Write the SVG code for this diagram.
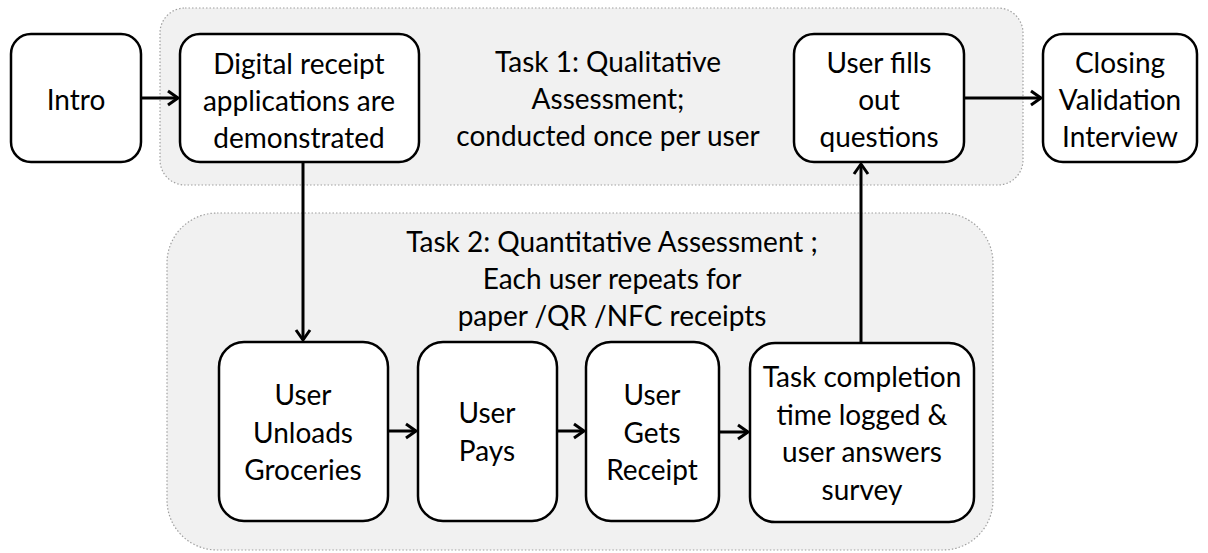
<svg xmlns="http://www.w3.org/2000/svg" width="1208" height="553" viewBox="0 0 1208 553">
<defs>
<style>
.bg{fill:#f1f1f1;stroke:#a0a0a0;stroke-width:1.2;stroke-dasharray:1.5 2}
.node{fill:#fff;stroke:#000;stroke-width:2.5}
.t{font-family:Lato,"Liberation Sans",sans-serif;font-size:28px;fill:#000;text-anchor:middle}
.c{fill:none;stroke:#000;stroke-width:3}
</style>
<marker id="ah" viewBox="0 0 16 18" refX="13" refY="9" markerWidth="16" markerHeight="18" markerUnits="userSpaceOnUse" orient="auto">
<path d="M3,2 L13,9 L3,16" fill="none" stroke="#000" stroke-width="3" stroke-linejoin="miter"/>
</marker>
</defs>
<g id="task1-container">
<rect class="bg" x="160" y="8" width="863" height="177" rx="25"/>
<text class="t"><tspan x="608" y="72">Task 1: Qualitative</tspan><tspan x="608" y="109">Assessment;</tspan><tspan x="608" y="146">conducted once per user</tspan></text>
</g>
<g id="task2-container">
<rect class="bg" x="167" y="213" width="826" height="337" rx="50"/>
<text class="t"><tspan x="612" y="252">Task 2: Quantitative Assessment ;</tspan><tspan x="612" y="289">Each user repeats for</tspan><tspan x="612" y="326">paper /QR /NFC receipts</tspan></text>
</g>
<g id="intro">
<rect class="node" x="11" y="34" width="130" height="128" rx="20"/>
<text class="t" x="76" y="110">Intro</text>
</g>
<g id="digital">
<rect class="node" x="180" y="34" width="239" height="128" rx="20"/>
<text class="t"><tspan x="299" y="74">Digital receipt</tspan><tspan x="299" y="111">applications are</tspan><tspan x="299" y="148">demonstrated</tspan></text>
</g>
<g id="fills">
<rect class="node" x="794" y="34" width="170" height="128" rx="20"/>
<text class="t"><tspan x="879" y="73">User fills</tspan><tspan x="879" y="110">out</tspan><tspan x="879" y="147">questions</tspan></text>
</g>
<g id="closing">
<rect class="node" x="1043" y="34" width="154" height="128" rx="20"/>
<text class="t"><tspan x="1120" y="73">Closing</tspan><tspan x="1120" y="110">Validation</tspan><tspan x="1120" y="147">Interview</tspan></text>
</g>
<g id="unloads">
<rect class="node" x="219" y="342" width="169" height="179" rx="25"/>
<text class="t"><tspan x="303" y="405">User</tspan><tspan x="303" y="443">Unloads</tspan><tspan x="303" y="480">Groceries</tspan></text>
</g>
<g id="pays">
<rect class="node" x="418" y="342" width="139" height="179" rx="25"/>
<text class="t"><tspan x="487" y="423">User</tspan><tspan x="487" y="461">Pays</tspan></text>
</g>
<g id="gets">
<rect class="node" x="586" y="342" width="133" height="179" rx="25"/>
<text class="t"><tspan x="652" y="405">User</tspan><tspan x="652" y="443">Gets</tspan><tspan x="652" y="480">Receipt</tspan></text>
</g>
<g id="completion">
<rect class="node" x="750" y="343" width="224" height="179" rx="25"/>
<text class="t"><tspan x="862" y="387">Task completion</tspan><tspan x="862" y="425">time logged &amp;</tspan><tspan x="862" y="462">user answers</tspan><tspan x="862" y="500">survey</tspan></text>
</g>
<g id="connectors">
<line class="c" x1="141" y1="98" x2="178" y2="98" marker-end="url(#ah)"/>
<line class="c" x1="964" y1="98" x2="1041" y2="98" marker-end="url(#ah)"/>
<line class="c" x1="303" y1="162" x2="303" y2="340" marker-end="url(#ah)"/>
<line class="c" x1="861" y1="343" x2="861" y2="164" marker-end="url(#ah)"/>
<line class="c" x1="388" y1="431" x2="416" y2="431" marker-end="url(#ah)"/>
<line class="c" x1="557" y1="431" x2="584" y2="431" marker-end="url(#ah)"/>
<line class="c" x1="719" y1="432" x2="748" y2="432" marker-end="url(#ah)"/>
</g>
</svg>
